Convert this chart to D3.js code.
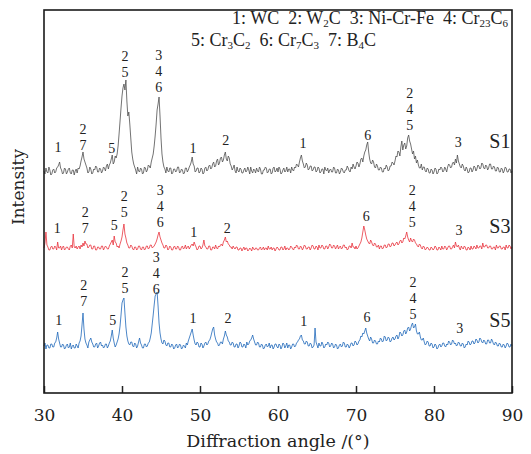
<!DOCTYPE html>
<meta charset="utf-8">
<head>
<title>XRD patterns</title>
<style>
body { margin: 0; background: #fff; }
svg text { font-family: "Liberation Serif", "Times New Roman", serif; fill: #222; }
</style>
</head>
<body>
<div id="chart"></div>
<script src="https://d3js.org/d3.v7.min.js"></script>
<script>
// 2theta grid of the scans (degrees)
var angleStart = 30, angleStep = 0.125;

// intensity above each trace's own floor (a.u.), one value per 0.125 deg, 30..90
var s1Counts = [
  5,2,8,4,3,9,6,1,2,6,7,3,4,8,9,11,14,8,6,2,3,8,7,2,4,7,8,3,2,6,6,1,5,7,3,8,7,10,15,19,
  24,17,14,11,8,3,4,9,7,2,3,7,6,10,9,4,4,8,7,3,5,9,8,5,10,12,7,11,13,17,21,12,14,20,18,22,30,42,55,68,
  80,88,92,86,96,75,60,64,52,38,24,17,12,9,6,2,9,5,4,8,7,2,3,9,8,4,6,11,10,8,14,18,22,30,40,52,66,72,79,60,
  38,22,14,9,7,3,9,5,4,8,8,2,3,7,7,4,5,9,9,3,4,7,6,2,3,8,8,4,6,9,11,14,19,12,10,4,5,8,8,3,
  4,8,7,2,3,8,9,5,6,10,11,7,8,12,14,9,10,15,17,11,13,18,19,14,16,21,24,17,15,20,18,12,10,6,8,11,5,3,9,5,
  4,8,7,3,3,6,8,4,5,9,6,2,9,5,3,7,6,3,8,5,4,9,7,2,2,6,6,9,8,3,4,7,7,2,3,8,9,4,5,8,
  4,9,7,2,3,6,8,4,5,9,4,7,7,3,9,6,5,9,8,12,11,9,14,18,21,15,12,8,9,13,11,6,7,10,10,5,6,9,9,4,
  5,9,8,3,4,7,7,2,9,6,5,8,3,6,7,4,4,9,8,3,3,7,6,2,4,8,7,4,3,6,6,10,8,5,4,9,7,12,9,7,
  10,14,13,9,12,17,18,14,20,24,26,31,34,24,17,13,12,16,14,9,8,12,10,6,6,9,8,4,4,8,7,11,9,5,6,10,10,14,13,11,
  15,20,19,25,24,20,29,35,26,31,33,27,30,38,41,35,32,27,22,25,17,20,13,16,11,8,8,12,6,9,9,5,4,8,7,3,3,7,6,2,
  4,8,7,2,3,7,6,9,8,4,5,9,7,4,9,12,11,8,9,13,14,11,17,13,21,15,12,9,8,12,10,6,5,9,7,3,4,8,8,4,
  6,10,9,5,7,11,10,7,8,13,12,8,7,11,10,6,8,12,12,7,7,10,9,5,5,9,8,4,4,8,7,3,5,9,8,4,4,7,7,3,
  5
];
var s3Counts = [
  4,9,20,7,5,2,2,5,6,3,3,6,5,2,10,4,4,6,2,5,6,2,3,5,5,3,2,6,7,4,18,5,4,6,3,5,6,3,7,5,
  9,6,11,8,8,4,5,7,7,3,3,6,6,2,2,5,5,3,3,6,6,2,4,6,5,3,3,6,8,10,12,7,16,10,9,5,6,4,8,11,
  15,22,28,18,14,9,7,4,4,7,6,3,2,5,5,2,3,6,6,3,2,5,5,2,3,6,6,3,4,7,7,4,5,6,8,10,13,17,20,15,
  12,9,7,4,4,7,6,2,3,6,5,2,2,5,6,3,3,6,5,2,2,5,6,3,4,7,3,5,6,3,5,7,8,6,10,7,5,2,3,6,
  6,3,4,7,12,6,5,3,3,6,6,2,2,5,5,3,7,4,3,6,5,7,8,6,10,12,15,10,11,8,7,5,5,3,6,4,3,5,5,2,
  2,4,4,1,3,5,2,4,4,1,2,4,3,1,5,3,2,4,4,2,2,4,5,2,3,5,2,4,4,2,6,3,3,5,2,4,4,1,3,5,
  4,2,2,5,5,2,3,6,2,4,4,2,3,6,5,3,2,5,4,7,6,3,3,6,5,2,4,7,6,3,3,5,5,2,4,7,6,3,3,6,
  5,2,7,4,4,7,6,3,3,6,6,3,5,8,7,4,4,7,6,3,5,7,3,5,6,3,4,7,7,4,5,2,3,6,6,4,9,5,5,3,
  6,3,4,6,8,10,14,20,26,22,17,13,11,9,8,12,10,7,6,9,8,5,5,7,3,6,6,3,4,7,7,4,5,8,8,5,6,9,9,6,
  7,9,10,7,8,11,12,9,10,14,13,16,20,15,12,10,14,11,10,13,12,9,8,6,5,8,7,4,3,6,5,2,3,5,4,2,2,5,4,2,
  3,6,5,2,2,5,4,2,6,3,3,6,5,2,4,6,6,3,3,5,7,4,10,6,5,7,4,2,6,4,3,6,5,2,2,5,4,2,6,3,
  3,6,5,3,7,4,4,6,6,3,9,5,5,7,7,4,4,6,6,3,3,5,5,2,7,4,4,6,6,3,3,5,5,2,7,4,4,7,6,3,
  5
];
var s5Counts = [
  5,8,2,6,6,3,3,7,7,4,4,8,9,13,19,12,8,4,4,7,6,2,3,6,7,3,4,8,2,5,6,3,3,7,5,3,8,10,15,26,
  38,22,12,8,6,3,9,11,13,9,7,4,4,7,8,3,5,8,9,5,6,3,4,7,7,3,5,8,10,15,21,13,8,4,6,9,12,17,25,36,
  48,51,53,38,24,15,10,7,6,9,9,5,4,8,7,3,5,9,13,8,6,3,3,7,7,4,5,8,9,13,18,27,36,46,55,57,59,45,28,18,
  12,8,7,11,10,6,5,8,8,4,4,7,6,2,3,6,7,3,4,7,6,2,3,6,5,3,8,6,10,13,16,19,22,16,11,7,6,9,8,4,
  4,8,7,3,5,8,9,6,7,10,11,14,18,22,24,16,12,9,8,5,6,9,9,7,12,15,20,16,14,10,9,6,6,9,8,4,4,7,7,3,
  5,9,8,4,4,7,6,3,9,6,7,10,11,13,16,12,9,6,6,9,8,4,4,7,6,2,3,6,7,4,5,8,3,6,6,2,4,7,7,4,
  3,7,6,2,4,8,7,3,5,8,3,6,6,2,4,7,7,4,5,8,9,11,12,15,16,11,10,7,7,10,9,5,5,8,7,3,4,6,23,9,
  6,3,8,5,5,9,7,3,4,7,6,9,8,4,5,8,7,3,4,7,6,2,3,6,7,4,5,9,8,4,4,7,6,3,5,8,8,5,6,10,
  9,6,7,10,11,15,14,18,17,20,23,18,15,12,10,14,12,8,8,11,10,7,7,10,9,13,12,9,10,15,14,10,11,14,13,9,10,13,14,11,
  12,15,16,12,14,19,18,15,16,20,21,17,19,23,24,20,22,26,28,23,24,27,20,17,17,19,14,11,11,13,9,6,7,10,9,5,5,8,7,3,
  4,7,6,2,3,6,7,4,5,8,8,5,4,7,6,10,9,6,7,11,10,7,8,5,6,9,8,5,5,8,7,3,4,7,6,10,9,6,7,10,
  10,7,8,12,11,8,9,13,12,9,8,11,10,7,7,11,11,8,8,12,10,7,6,9,8,5,5,8,7,4,4,7,6,3,5,8,7,4,4,7,
  5
];

// phase marks: [angle, intensity above floor, lines]
var s1Labels = [[31.8,24,"1"],[35.0,26,"2|7"],[38.7,23,"5"],[40.4,99,"2|5"],[44.7,84,"3|4|6"],
  [49.1,23,"1"],[53.3,31,"2"],[63.2,28,"1"],[71.5,36,"6"],[76.9,46,"2|4|5"],[83.1,29,"3"]];
var s3Labels = [[31.7,19,"1"],[35.3,19,"2|7"],[39.0,22,"5"],[40.3,35,"2|5"],[44.9,25,"3|4|6"],
  [49.2,15,"1"],[53.5,19,"2"],[71.3,31,"6"],[77.2,25,"2|4|5"],[83.2,17,"3"]];
var s5Labels = [[31.9,26,"1"],[35.1,45,"2|7"],[38.8,26,"5"],[40.4,58,"2|5"],[44.4,57,"3|4|6"],
  [49.1,28,"1"],[53.6,28,"2"],[63.3,25,"1"],[71.4,29,"6"],[77.3,32,"2|4|5"],[83.3,18,"3"]];

var sampleNames = ["S1", "S3", "S5"];
var nameAngle = 88.45;
var nameLevels = [28, 19, 24];
var xTicks = [30, 40, 50, 60, 70, 80, 90];

var width = 531, height = 454;
var plotLeft = 44, plotRight = 512, plotTop = 10, plotBottom = 393;

var x = d3.scaleLinear().domain([30, 90]).range([plotLeft, plotRight]);
var y = d3.scaleLinear().domain([0, plotBottom - plotTop]).range([plotBottom, plotTop]);

var traces = [
  {name: sampleNames[0], counts: s1Counts, labels: s1Labels, shift: 217, color: "#4f4f4f", nameLevel: nameLevels[0]},
  {name: sampleNames[1], counts: s3Counts, labels: s3Labels, shift: 141, color: "#e8333d", nameLevel: nameLevels[1]},
  {name: sampleNames[2], counts: s5Counts, labels: s5Labels, shift: 42, color: "#2068ba", nameLevel: nameLevels[2]}
];

var svg = d3.select("#chart").append("svg")
  .attr("width", width)
  .attr("height", height);

var line = d3.line()
  .x(function(d, i) { return x(angleStart + i * angleStep); });

traces.forEach(function(t) {
  line.y(function(d) { return y(t.shift + d); });
  svg.append("path")
    .attr("d", line(t.counts))
    .attr("fill", "none")
    .attr("stroke", t.color)
    .attr("stroke-width", 0.8)
    .attr("stroke-linejoin", "round");

  var g = svg.append("g").attr("class", "marks");
  t.labels.forEach(function(l) {
    var rows = l[2].split("|");
    var base = y(t.shift + l[1]);
    rows.forEach(function(r, k) {
      g.append("text")
        .attr("x", x(l[0]))
        .attr("y", base - (rows.length - 1 - k) * 16)
        .attr("text-anchor", "middle")
        .style("font-size", "14px")
        .text(r);
    });
  });

  svg.append("text")
    .attr("x", x(nameAngle))
    .attr("y", y(t.shift + t.nameLevel))
    .attr("text-anchor", "middle")
    .style("font-size", "20px")
    .text(t.name);
});

// x axis, ticks inward
var xAxis = svg.append("g")
  .attr("transform", "translate(0," + plotBottom + ")")
  .call(d3.axisBottom(x).tickValues(xTicks).tickSize(-7).tickPadding(16).tickFormat(d3.format("d")));
xAxis.select(".domain").remove();
xAxis.selectAll("line").attr("stroke", "#222").attr("stroke-width", 1.5);
xAxis.selectAll("text")
  .style("font-family", "'DejaVu Serif', serif")
  .style("font-size", "17px")
  .attr("fill", "#222");

svg.append("rect")
  .attr("x", plotLeft).attr("y", plotTop)
  .attr("width", plotRight - plotLeft).attr("height", plotBottom - plotTop)
  .attr("fill", "none")
  .attr("stroke", "#1a1a1a")
  .attr("stroke-width", 1.6);

svg.append("text")
  .attr("x", (plotLeft + plotRight) / 2)
  .attr("y", 447)
  .attr("text-anchor", "middle")
  .style("font-family", "'DejaVu Serif', serif")
  .style("font-size", "17.5px")
  .text("Diffraction angle /(°)");

svg.append("text")
  .attr("transform", "translate(24,187)rotate(-90)")
  .attr("text-anchor", "middle")
  .style("font-family", "'DejaVu Serif', serif")
  .style("font-size", "17px")
  .text("Intensity");

// phase key
function keyLine(xPos, yPos, anchor, parts) {
  var t = svg.append("text").attr("x", xPos).attr("y", yPos)
    .attr("text-anchor", anchor).style("font-size", "18px");
  var lowered = false;
  parts.forEach(function(p) {
    if (p.charAt(0) == "_") {
      t.append("tspan").attr("dy", lowered ? 0 : 3).style("font-size", "11px").text(p.slice(1));
      lowered = true;
    } else {
      t.append("tspan").attr("dy", lowered ? -3 : 0).text(p);
      lowered = false;
    }
  });
}
keyLine(508, 24, "end", ["1: WC\u00a0\u00a02: W", "_2", "C\u00a0\u00a03: Ni-Cr-Fe\u00a0\u00a04: Cr", "_23", "C", "_6"]);
keyLine(191, 46, "start", ["5: Cr", "_3", "C", "_2", "\u00a0\u00a06: Cr", "_7", "C", "_3", "\u00a0\u00a07: B", "_4", "C"]);
</script>
</body>
